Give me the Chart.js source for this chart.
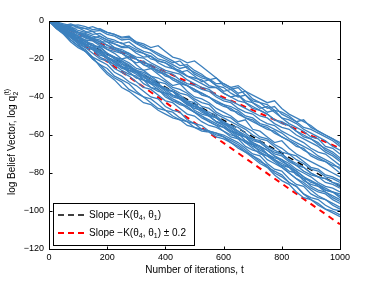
<!DOCTYPE html>
<html>
<head>
<meta charset="utf-8">
<script src="https://cdn.jsdelivr.net/npm/chart.js@4"></script>
<style>
  html, body { margin: 0; padding: 0; background: #fff; }
  #wrap { width: 374px; height: 281px; }
</style>
</head>
<body>
<div id="wrap"><canvas id="beliefChart" width="374" height="281"></canvas></div>
<script>
// iteration index of each sampled point
const iterations = [0, 25, 50, 75, 100, 125, 150, 175, 200, 225, 250, 275, 300, 325, 350, 375, 400,
  425, 450, 475, 500, 525, 550, 575, 600, 625, 650, 675, 700, 725, 750, 775, 800,
  825, 850, 875, 900, 925, 950, 975, 1000];

// runs in the upper bundle (slower decay)
const upperRuns = [
  [0, -1,-2.5,-1.5,-3, -4,-3,-4.5,-6, -7,-8.5,-8,-11.5, -13,-15.5,-18,-20, -22,-21,-25,-27, -29,-30.5,-33,-33, -35,-38,-37,-41, -43,-44,-47,-48, -50,-53,-52,-56, -58,-60,-62,-64],
  [0, -1,-2.5,-2,-3.5, -4,-5.5,-5,-7, -8,-10,-9.5,-12, -14,-15,-17,-19, -21,-23.5,-23,-26, -28,-31,-30,-34, -36,-35,-39,-42, -43,-46,-45,-49, -51,-53,-56,-57, -59,-61,-63,-66],
  [0, -1,-2,-4,-3.5, -5.5,-7,-6.5,-9, -10,-12,-11,-14, -16,-17,-20,-21, -23,-25,-24,-28, -30,-31,-34,-35, -38,-40,-39,-43, -46,-45,-48,-51, -52,-54,-57,-59, -61,-63,-66,-68],
  [0, -2,-3,-3,-5, -6,-5.5,-8,-10, -11,-11.5,-14,-16, -17,-18.5,-21,-22, -24,-27,-26,-29, -32,-31,-34,-37, -36,-39,-42,-43, -45,-48,-47,-51, -54,-56,-58,-61, -62,-66,-67,-70],
  [0, -1.5,-3,-3.5,-6, -6.5,-8,-9,-11, -12,-14,-14,-17, -19,-18.5,-22,-24, -25,-27,-29,-31, -33,-35,-35,-38, -40,-42,-43,-46, -47,-49,-52,-54, -55,-58,-60,-62, -65,-67,-69,-72],
  [0, -2,-4,-4.5,-7, -8,-9.5,-11,-11, -14,-15,-17,-19, -19.5,-22,-24,-26, -27,-28,-31,-33, -35,-36,-39,-41, -42,-44,-46,-48, -50,-51,-54,-56, -57,-60,-62,-64, -66,-69,-71,-74],
  [0, -2,-3,-5,-6, -8,-9,-11,-12.5, -15,-16,-17,-20, -22,-23,-25,-27, -28,-31,-33,-34, -36,-37,-40,-42, -43,-46,-48,-49, -52,-54,-55,-58, -60,-62,-64,-67, -69,-70,-73,-76],
  [0, -2,-4,-5,-8, -8.5,-10,-12,-14, -15,-17,-19,-20, -23,-24,-26,-28, -30,-32,-34,-36, -38,-40,-42,-44, -45,-47,-50,-51, -54,-55,-57,-59, -62,-64,-66,-68, -71,-73,-75,-78],
  [0, -1,-3,-4.5,-6, -7,-9,-10,-13, -14,-16,-18,-20, -23,-25,-26,-29, -30,-32,-34,-36, -39,-40,-43,-44, -47,-48,-51,-53, -55,-56,-59,-61, -63,-65,-68,-70, -72,-74,-77,-80],
  [0, -0.5,-1.5,-2.5,-2, -3,-4.5,-4,-6, -7,-9,-8.5,-11, -12,-14,-13,-16, -19,-20,-22,-21, -24,-27,-30,-33, -35,-34,-37,-39, -41,-43,-42,-46, -49,-51,-53,-55, -58,-60,-62,-65],
  [0, -2.5,-3.5,-4,-6, -7.5,-9,-8,-10, -12,-13.5,-13,-15, -17,-20,-21,-22, -25,-26,-29,-30, -31,-34,-35,-38, -40,-39,-43,-45, -47,-49,-52,-53, -55,-58,-61,-62, -64,-68,-70,-73],
  [0, -1.5,-4,-5,-6, -9,-10,-12,-15, -16,-17,-20,-22, -21,-24,-27,-28, -31,-33,-34,-37, -38,-40,-43,-45, -46,-49,-51,-52, -55,-57,-58,-61, -63,-66,-67,-71, -73,-74,-76,-77]
];

// runs in the lower bundle (faster decay)
const lowerRuns = [
  [0, -2,-4.5,-6,-8, -10,-10.5,-13,-15, -17,-20,-19,-23, -26,-25,-28,-31, -34,-33,-37,-40, -41,-43,-46,-48, -50,-53,-52,-57, -58,-61,-64,-63, -67,-70,-72,-74, -76,-78,-80,-82],
  [0, -3,-4.5,-7,-9, -10,-13,-13.5,-17, -19,-20,-22,-25, -26,-29,-30,-32, -35,-36,-38,-41, -43,-44,-48,-50, -51,-54,-56,-58, -61,-62,-65,-67, -70,-71,-74,-77, -78,-81,-82,-84],
  [0, -2,-5,-6.5,-10, -12,-13,-16,-17, -20,-21,-24,-26, -27,-29,-32,-33, -36,-38,-39,-42, -45,-46,-49,-51, -53,-55,-57,-60, -62,-63,-66,-69, -70,-73,-75,-78, -79,-82,-83,-85],
  [0, -3,-5,-8,-9, -13,-14,-16,-19, -21,-22,-26,-27, -29,-32,-33,-36, -37,-40,-42,-43, -47,-48,-50,-53, -55,-56,-59,-62, -63,-66,-68,-70, -73,-75,-77,-80, -82,-83,-85,-87],
  [0, -2,-4,-6.5,-9, -11,-13,-16,-17, -20,-23,-24,-27, -29,-30,-34,-35, -37,-39,-42,-45, -46,-49,-51,-54, -56,-58,-60,-63, -64,-67,-70,-71, -74,-76,-79,-81, -82,-85,-86,-88],
  [0, -3,-6,-7.5,-11, -13,-14,-17,-20, -21,-24,-26,-27, -31,-33,-34,-37, -40,-41,-44,-46, -47,-50,-53,-54, -57,-60,-61,-64, -66,-68,-71,-73, -75,-78,-80,-82, -85,-87,-88,-90],
  [0, -2,-4,-6,-8, -11,-13,-14,-17, -19,-21,-23,-26, -28,-30,-33,-36, -37,-41,-43,-45, -48,-50,-53,-55, -58,-59,-63,-65, -66,-70,-72,-73, -77,-79,-82,-85, -86,-88,-90,-93],
  [0, -3,-6,-8.5,-11, -14,-15,-19,-21, -23,-26,-28,-29, -33,-35,-36,-40, -42,-43,-46,-48, -50,-53,-55,-56, -59,-62,-63,-66, -68,-70,-73,-76, -77,-80,-83,-84, -87,-89,-90,-92],
  [0, -2,-5,-7.5,-10, -12,-15,-17,-20, -23,-24,-27,-30, -31,-35,-37,-38, -41,-43,-45,-48, -50,-52,-54,-56, -58,-61,-64,-65, -69,-71,-73,-76, -79,-80,-84,-86, -87,-90,-92,-94],
  [0, -3,-6,-8,-12, -14,-17,-20,-21, -25,-27,-29,-32, -35,-36,-39,-42, -43,-46,-49,-50, -53,-55,-56,-58, -61,-62,-66,-68, -69,-73,-75,-77, -80,-83,-85,-88, -90,-91,-94,-96],
  [0, -3,-6.5,-10,-13, -15,-19,-21,-23, -27,-29,-32,-34, -37,-40,-41,-45, -47,-48,-52,-54, -55,-58,-59,-60, -62,-64,-67,-70, -71,-75,-78,-79, -83,-86,-87,-91, -93,-94,-96,-98],
  [0, -4,-7,-11,-14, -16,-20,-23,-25, -29,-31,-33,-37, -40,-41,-44,-47, -48,-51,-53,-54, -57,-58,-59,-61, -63,-65,-68,-71, -73,-77,-79,-81, -85,-87,-91,-93, -94,-97,-99,-100],
  [0, -4,-6.5,-10,-13, -16,-20,-23,-27, -30,-32,-36,-38, -40,-43,-46,-47, -50,-52,-53,-56, -58,-58.5,-61,-62, -64,-67,-69,-72, -75,-77,-81,-84, -86,-90,-93,-94, -97,-99,-100,-102],
  [0, -3,-6,-9,-12, -16,-19,-24,-28, -31,-35,-37,-40, -43,-44,-47,-49, -51,-52,-55,-56, -57,-58,-60,-61, -64,-66,-69,-71, -74,-76,-80,-82, -85,-87,-91,-94, -96,-99,-101,-103],
  [0, -2.5,-4,-7,-8, -11,-12,-15,-18, -19,-22,-25,-26, -29,-33,-34,-36, -39,-40,-43,-47, -49,-50,-53,-55, -58,-60,-61,-65, -67,-70,-73,-75, -77,-81,-83,-87, -89,-90,-93,-95],
  [0, -3.5,-5,-8,-11, -12,-15,-18,-19, -22,-25,-26,-28, -31,-32,-35,-38, -39,-41,-44,-45, -46,-49,-51,-54, -55,-58,-61,-62, -64,-67,-69,-70, -73,-76,-77,-80, -82,-83,-85,-86],
  [0, -2,-5,-8,-9, -12,-15,-16,-19, -22,-24,-27,-30, -31,-33,-36,-39, -42,-44,-45,-48, -51,-53,-55,-58, -60,-61,-64,-67, -70,-71,-74,-77, -80,-83,-86,-89, -92,-94,-97,-99],
  [0, -3,-5.5,-7,-10, -13,-14,-16,-19, -21,-24,-25,-27, -30,-31,-34,-36, -37,-40,-43,-44, -47,-50,-51,-53, -56,-59,-61,-64, -66,-68,-71,-74, -76,-79,-82,-84, -86,-89,-90,-91]
];

// reference slope lines: -K(theta4, theta1) and the +/- 0.2 band
const slopeT = [0, 1000];
const slopeLine = [0, -87];
const slopeUpper = [0, -67];
const slopeLower = [0, -107];

const xTicks = [0, 200, 400, 600, 800, 1000];
const yTicks = [0, -20, -40, -60, -80, -100, -120];

const runColor = '#3c80be';
const fontFam = '"Liberation Sans", Arial, Helvetica, sans-serif';

function pts(xs, ys) {
  return xs.map((t, i) => ({ x: t, y: ys[i] }));
}

// slope lines go under the runs (higher order is drawn first)
const datasets = [];
datasets.push({
  data: pts(slopeT, slopeLine),
  borderColor: '#000',
  borderWidth: 1.5,
  borderDash: [6, 5],
  pointRadius: 0,
  order: 10
});
[slopeUpper, slopeLower].forEach(s => {
  datasets.push({
    data: pts(slopeT, s),
    borderColor: '#ff0000',
    borderWidth: 2,
    borderDash: [6, 5],
    pointRadius: 0,
    order: 10
  });
});
upperRuns.concat(lowerRuns).forEach(run => {
  datasets.push({
    data: pts(iterations, run),
    borderColor: runColor,
    borderWidth: 1.3,
    pointRadius: 0,
    tension: 0,
    order: 0
  });
});

function minusFmt(v) {
  return v < 0 ? '\u2212' + Math.abs(v) : String(v);
}

// text pieces with optional subscripts, returns end x
function drawSubText(ctx, parts, x, y) {
  parts.forEach(p => {
    if (p.sub) {
      ctx.font = '7px ' + fontFam;
      ctx.fillText(p.t, x, y + 3);
    } else {
      ctx.font = '10px ' + fontFam;
      ctx.fillText(p.t, x, y);
    }
    x += ctx.measureText(p.t).width;
  });
  return x;
}

const framePlugin = {
  id: 'frame',
  afterDraw(chart) {
    const { ctx, chartArea: a, scales } = chart;
    const x = scales.x, y = scales.y;
    ctx.save();
    ctx.strokeStyle = '#000';
    ctx.lineWidth = 1;
    ctx.setLineDash([]);
    const L = Math.round(a.left) + 0.5, R = Math.round(a.right) + 0.5;
    const T = Math.round(a.top) + 0.5, B = Math.round(a.bottom) + 0.5;
    ctx.strokeRect(L, T, R - L, B - T);
    ctx.beginPath();
    xTicks.forEach(v => {
      const px = Math.round(x.getPixelForValue(v)) + 0.5;
      ctx.moveTo(px, B); ctx.lineTo(px, B - 3);
      ctx.moveTo(px, T); ctx.lineTo(px, T + 3);
    });
    yTicks.forEach(v => {
      const py = Math.round(y.getPixelForValue(v)) + 0.5;
      ctx.moveTo(L, py); ctx.lineTo(L + 3, py);
      ctx.moveTo(R, py); ctx.lineTo(R - 3, py);
    });
    ctx.stroke();

    // legend box
    const lx = 53.5, ly = 203.5, lw = 141, lh = 42;
    ctx.fillStyle = '#fff';
    ctx.fillRect(lx, ly, lw, lh);
    ctx.strokeRect(lx, ly, lw, lh);
    const rows = [
      { c: '#000', w: 1.5, y: 215, extra: '' },
      { c: '#ff0000', w: 2, y: 233, extra: ' \u00b1 0.2' }
    ];
    rows.forEach(r => {
      ctx.beginPath();
      ctx.strokeStyle = r.c;
      ctx.lineWidth = r.w;
      ctx.setLineDash([6, 4]);
      ctx.moveTo(58, r.y); ctx.lineTo(86, r.y);
      ctx.stroke();
      ctx.setLineDash([]);
      ctx.fillStyle = '#000';
      ctx.textBaseline = 'middle';
      ctx.textAlign = 'left';
      drawSubText(ctx, [
        { t: 'Slope \u2212K(\u03b8' }, { t: '4', sub: true },
        { t: ', \u03b8' }, { t: '1', sub: true }, { t: ')' + r.extra }
      ], 89, r.y);
    });

    // x axis title
    ctx.fillStyle = '#000';
    ctx.font = '10px ' + fontFam;
    ctx.textAlign = 'center';
    ctx.textBaseline = 'middle';
    ctx.fillText('Number of iterations, t', (a.left + a.right) / 2, 270);

    // y axis title, rotated
    ctx.translate(15, 195);
    ctx.rotate(-Math.PI / 2);
    ctx.textAlign = 'left';
    ctx.textBaseline = 'alphabetic';
    ctx.font = '10px ' + fontFam;
    const main = 'log Belief Vector, log q';
    ctx.fillText(main, 0, 0);
    const w = ctx.measureText(main).width;
    ctx.font = '7px ' + fontFam;
    ctx.fillText('2', w + 0.5, 3);
    ctx.fillText('(t)', w + 0.5, -6);
    ctx.restore();
  }
};

new Chart(document.getElementById('beliefChart'), {
  type: 'line',
  data: { datasets },
  options: {
    responsive: false,
    animation: false,
    events: [],
    layout: { padding: { top: 21, right: 34, left: 0, bottom: 0 } },
    plugins: { legend: { display: false }, tooltip: { enabled: false } },
    scales: {
      x: {
        type: 'linear',
        min: 0,
        max: 1000,
        grid: { display: false, drawTicks: false },
        border: { display: false },
        afterFit: s => { s.height = 32; },
        afterBuildTicks: s => { s.ticks = xTicks.map(v => ({ value: v })); },
        ticks: { color: '#000', padding: 3, maxRotation: 0, font: { family: fontFam, size: 9 }, callback: v => String(v) }
      },
      y: {
        min: -120,
        max: 0,
        grid: { display: false, drawTicks: false },
        border: { display: false },
        afterFit: s => { s.width = 49; },
        afterBuildTicks: s => { s.ticks = yTicks.map(v => ({ value: v })); },
        ticks: { color: '#000', padding: 5, font: { family: fontFam, size: 9 }, callback: v => minusFmt(v) }
      }
    }
  },
  plugins: [framePlugin]
});
</script>
</body>
</html>
